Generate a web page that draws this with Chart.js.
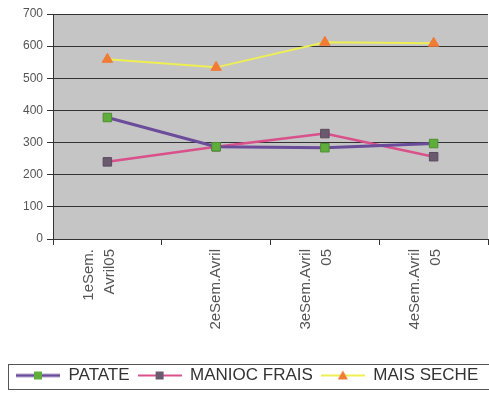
<!DOCTYPE html>
<html>
<head>
<meta charset="utf-8">
<script src="https://cdn.jsdelivr.net/npm/chart.js@4/dist/chart.umd.min.js"></script>
<style>
  html, body { margin: 0; padding: 0; background: #fff; }
  #wrap { width: 489px; height: 393px; }
</style>
</head>
<body>
<div id="wrap"><canvas id="chart" width="489" height="393"></canvas></div>
<script>
// data
const weeks = [["1eSem.", "Avril05"], "2eSem.Avril", ["3eSem.Avril", "05"], ["4eSem.Avril", "05"]];
const patate = [378, 287, 284, 297];
const maniocFrais = [240, 287, 328, 256];
const maisSeche = [559, 534, 612, 609];
const yMax = 700;
const yStep = 100;

const padBottom = -1;

// legend sample: a short line with the marker in the middle
function legendSymbol(lineColor, lineWidth, markerColor, shape) {
    const c = document.createElement('canvas');
    c.width = 44;
    c.height = 12;
    const g = c.getContext('2d');
    g.strokeStyle = lineColor;
    g.lineWidth = lineWidth;
    g.beginPath();
    g.moveTo(0, 6);
    g.lineTo(44, 6);
    g.stroke();
    g.fillStyle = markerColor;
    if (shape === 'rect') {
        g.fillRect(18, 2, 8, 8);
    } else {
        g.beginPath();
        g.moveTo(22, 1);
        g.lineTo(27, 10);
        g.lineTo(17, 10);
        g.closePath();
        g.fill();
    }
    return c;
}

const symbols = [
    legendSymbol('#6b4c9a', 3, '#5fae3c', 'rect'),
    legendSymbol('#d9508a', 2, '#6a5a6e', 'rect'),
    legendSymbol('#eeee55', 2, '#f07b35', 'triangle')
];

const plotBackground = {
    id: 'plotBackground',
    beforeDraw(chart) {
        const a = chart.chartArea;
        const ctx = chart.ctx;
        ctx.save();
        ctx.fillStyle = '#c5c5c5';
        ctx.fillRect(a.left, a.top, a.right - a.left, a.bottom - a.top);
        ctx.restore();
    }
};

// two-line labels sit left of the tick in the original, not right of it
const shiftLabels = {
    id: 'shiftLabels',
    beforeDraw(chart) {
        const scale = chart.scales.x;
        scale.getLabelItems().forEach(item => {
            if (Array.isArray(item.label) && !item._shifted) {
                item.textOffset -= 19;
                item._shifted = true;
            }
        });
    }
};

const legendFrame = {
    id: 'legendFrame',
    afterDraw(chart) {
        const hb = chart.legend.legendHitBoxes[0];
        if (!hb) return;
        const cy = hb.top + hb.height / 2;
        const ctx = chart.ctx;
        ctx.save();
        ctx.strokeStyle = '#555';
        ctx.lineWidth = 1;
        ctx.strokeRect(8.5, Math.round(cy - 12) + 0.5, 490, 25);
        ctx.restore();
    }
};

const ctx = document.getElementById('chart').getContext('2d');
new Chart(ctx, {
    type: 'line',
    data: {
        labels: weeks,
        datasets: [
            {
                label: 'PATATE',
                data: patate,
                borderColor: '#6b4c9a',
                borderWidth: 3,
                pointStyle: 'rect',
                pointRadius: 6,
                pointBackgroundColor: '#5fae3c',
                pointBorderColor: '#4d8f30',
                pointBorderWidth: 1,
                tension: 0
            },
            {
                label: 'MANIOC FRAIS',
                data: maniocFrais,
                borderColor: '#d9508a',
                borderWidth: 2.5,
                pointStyle: 'rect',
                pointRadius: 6,
                pointBackgroundColor: '#6a5a6e',
                pointBorderColor: '#5a4a5e',
                pointBorderWidth: 1,
                tension: 0
            },
            {
                label: 'MAIS SECHE',
                data: maisSeche,
                borderColor: '#eeee55',
                borderWidth: 2,
                pointStyle: 'triangle',
                pointRadius: 6,
                pointBackgroundColor: '#f07b35',
                pointBorderColor: '#f07b35',
                pointBorderWidth: 1,
                tension: 0
            }
        ]
    },
    options: {
        responsive: false,
        animation: false,
        layout: { autoPadding: false, padding: { top: 14, left: 8, right: 1, bottom: padBottom } },
        scales: {
            x: {
                offset: true,
                grid: {
                    offset: true,
                    drawOnChartArea: false,
                    drawTicks: true,
                    tickLength: 6,
                    color: '#333'
                },
                border: { color: '#333', width: 1 },
                ticks: {
                    minRotation: 90,
                    maxRotation: 90,
                    autoSkip: false,
                    padding: 4,
                    color: '#555',
                    font: { family: 'Liberation Sans, Arial, sans-serif', size: 15, lineHeight: 1.4 }
                },
                afterFit(scale) {
                    scale.height = 393 - 239 - scale.chart.legend.height - padBottom;
                    scale.paddingRight = 0;
                }
            },
            y: {
                min: 0,
                max: yMax,
                grid: {
                    color: '#333',
                    lineWidth: 1,
                    tickLength: 6
                },
                border: { color: '#333', width: 1 },
                ticks: {
                    stepSize: yStep,
                    padding: 4,
                    color: '#555',
                    font: { family: 'Liberation Sans, Arial, sans-serif', size: 12 }
                },
                afterFit(scale) {
                    scale.width = 45;
                }
            }
        },
        plugins: {
            legend: {
                position: 'bottom',
                align: 'start',
                labels: {
                    usePointStyle: true,
                    pointStyleWidth: 44,
                    padding: 8,
                    color: '#333',
                    font: { family: 'Liberation Sans, Arial, sans-serif', size: 17 },
                    generateLabels(chart) {
                        const items = Chart.defaults.plugins.legend.labels.generateLabels(chart);
                        return items.map((item, i) => Object.assign(item, { pointStyle: symbols[i] }));
                    }
                }
            },
            tooltip: { enabled: false }
        }
    },
    plugins: [plotBackground, shiftLabels, legendFrame]
});
</script>
</body>
</html>
